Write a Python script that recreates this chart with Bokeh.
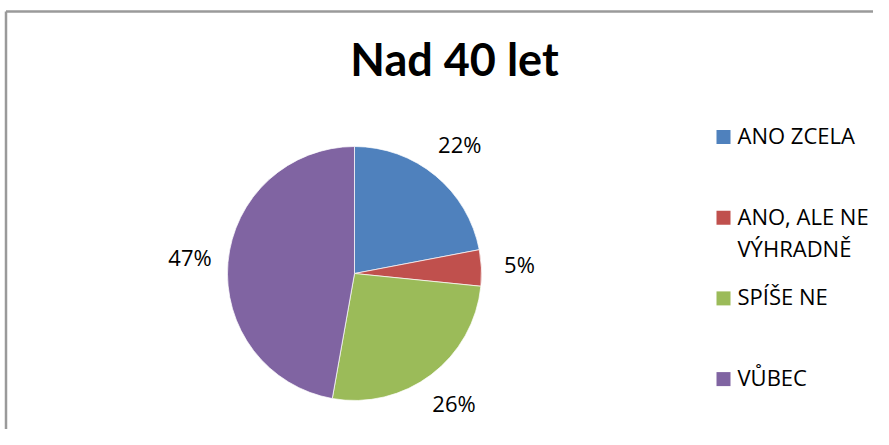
import numpy as np
from bokeh.plotting import figure
from bokeh.models import Range1d
from bokeh.embed import file_html
from bokeh.resources import INLINE
from bokeh.core.properties import value

# ---- data ----
title = "Nad 40 let"
categories = ["ANO ZCELA", "ANO, ALE NE\nVÝHRADNĚ", "SPÍŠE NE", "VŮBEC"]
shares = [22.0, 4.6, 26.2, 47.2]
colors = ["#4F81BD", "#C0504D", "#9BBB59", "#8064A2"]

# ---- layout (pixel-like data coordinates, y measured from bottom) ----
W, H = 873, 429


def Y(py):
    return H - py


p = figure(width=W, height=H,
           x_range=Range1d(0, W), y_range=Range1d(0, H),
           x_axis_type=None, y_axis_type=None,
           toolbar_location=None, output_backend="svg", min_border=0)
p.grid.visible = False
p.outline_line_color = None
p.background_fill_color = "white"
p.border_fill_color = "white"

# chart frame (top and left edges visible)
p.segment(x0=[5.5, 5.5], y0=[Y(11), Y(11)], x1=[W + 5, 5.5], y1=[Y(11), Y(H + 5)],
          line_color="#9a9a9a", line_width=2.5)

# ---- pie ----
cx, cy, R = 354, Y(273), 127
frac = np.array(shares) / sum(shares)
cum = np.concatenate([[0.0], np.cumsum(frac)])
start = np.pi / 2 - 2 * np.pi * cum[:-1]
end = np.pi / 2 - 2 * np.pi * cum[1:]
p.wedge(x=cx, y=cy, radius=R, start_angle=start, end_angle=end,
        direction="clock", fill_color=colors, line_color="white", line_width=0.7)

# data labels
TXT_ADJ = 2  # middle-baseline correction
mid = (cum[:-1] + cum[1:]) / 2 * 2 * np.pi
LR = 1.3 * R
lx = cx + LR * np.sin(mid)
ly = cy + LR * np.cos(mid) + TXT_ADJ
labels = [f"{round(s)}%" for s in shares]
p.text(x=lx, y=ly, text=labels, text_font=value("Open Sans"),
       text_font_size="22px", text_align="center", text_baseline="middle",
       text_color="black")

# title
p.text(x=[454], y=[Y(61) + TXT_ADJ + 1], text=[title], text_font=value("Lato"),
       text_font_style="bold", text_font_size="45px", text_align="center",
       text_baseline="middle", text_color="black")

# ---- legend ----
row0, row_step, line_step = 136.5, 80.7, 32
sq_x, sq = 723, 14
tx = 737
rows = [row0 + row_step * i for i in range(len(categories))]
p.rect(x=[sq_x] * len(categories), y=[Y(r) for r in rows], width=sq, height=sq,
       fill_color=colors, line_color=None)
txt, tyy = [], []
for r, c in zip(rows, categories):
    for j, line in enumerate(c.split("\n")):
        txt.append(line)
        tyy.append(Y(r + line_step * j) + TXT_ADJ)
p.text(x=[tx] * len(txt), y=tyy, text=txt, text_font=value("Open Sans"),
       text_font_size="22px", text_align="left", text_baseline="middle",
       text_color="black")

open("out.html", "w").write(file_html(p, INLINE))
